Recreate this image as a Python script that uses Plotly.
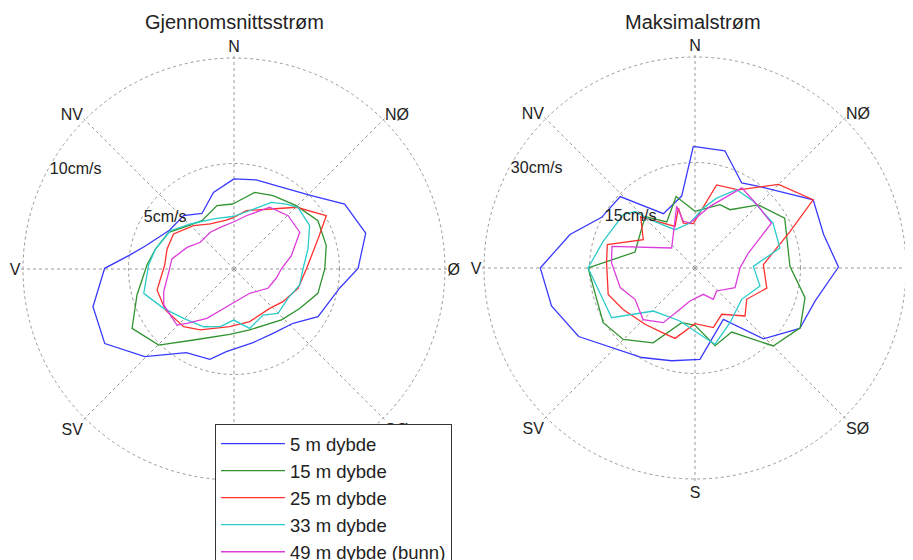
import plotly.graph_objects as go

# ---------------- data (compass degrees, cm/s) ----------------
labels = ["5 m dybde", "15 m dybde", "25 m dybde", "33 m dybde", "49 m dybde (bunn)"]
colors = ["#3a3aff", "#2f932f", "#ff3030", "#2ccccc", "#dd3cdd"]

dir_vals = [0, 45, 90, 135, 180, 225, 270, 315]
dir_text = ["N", "NØ", "Ø", "SØ", "S", "SV", "V", "NV"]

# Gjennomsnittsstrøm (mean current)
mean_5_th = [0, 14, 29, 45.6, 59.6, 74.8, 89.7, 100, 119.6, 132.6, 148.8, 165.5, 185.3, 195, 209.7, 225.5, 240, 255, 270.3, 277.6, 285, 301, 316.7, 330, 345]
mean_5_r = [4.27, 4.35, 4.46, 5.01, 6.08, 6.47, 5.88, 5.1, 4.58, 3.80, 3.57, 3.60, 3.93, 4.43, 4.56, 5.93, 7.07, 6.92, 6.13, 4.99, 4.31, 3.57, 3.48, 3.04, 3.76]

mean_15_th = [359, 15.1, 28, 44.5, 60.1, 75.8, 90, 106.2, 121, 137, 165.6, 183.8, 209.6, 224.7, 239.8, 255, 272.6, 284.3, 299.3, 309.6, 326.5, 345]
mean_15_r = [3.08, 3.76, 3.94, 4.21, 4.59, 4.51, 4.30, 4.14, 3.63, 3.30, 2.98, 3.10, 3.87, 5.07, 5.59, 4.76, 4.13, 3.84, 3.55, 3.10, 2.75, 3.11]

mean_25_th = [0, 11.9, 31.9, 45.3, 60, 70.3, 90, 106.8, 123.7, 137.8, 163.4, 184.3, 208.9, 221.1, 239.2, 254.7, 273.3, 286.6, 300.1, 317, 332.3, 351]
mean_25_r = [2.45, 2.83, 3.35, 4.16, 5.05, 4.23, 3.43, 3.17, 2.79, 2.52, 2.60, 2.74, 3.30, 3.63, 3.79, 3.78, 3.29, 3.31, 3.31, 2.81, 2.41, 2.35]

mean_33_th = [0, 15, 29.2, 38.8, 46.1, 60.2, 74.9, 90, 103.7, 118.5, 135.2, 147.8, 165.2, 180.4, 193.3, 207.7, 225.6, 240.8, 254.9, 272.7, 284.3, 301, 315.9, 337.9]
mean_33_r = [2.50, 2.86, 3.62, 3.95, 4.21, 4.13, 3.63, 3.27, 3.20, 2.91, 2.96, 2.58, 2.91, 2.42, 2.81, 3.09, 3.34, 3.82, 4.43, 4.05, 3.84, 3.52, 2.97, 2.56]

mean_49_th = [0, 13, 30, 45.4, 60.8, 76.9, 90, 102.4, 119.6, 147.2, 186.9, 208.7, 220.9, 225.5, 242.9, 252.1, 267.1, 279.2, 294.7, 308.4, 327.2, 341.8]
mean_49_r = [2.24, 2.59, 3.38, 3.60, 3.57, 2.79, 2.24, 2.05, 1.85, 1.37, 1.72, 2.67, 3.41, 3.79, 3.74, 3.50, 3.10, 2.98, 2.45, 2.04, 2.07, 2.08]

# Maksimalstrøm (maximum current)
max_5_th = [359.2, 14.3, 28.8, 38.5, 60, 75.4, 89.6, 105.4, 120, 136, 151.1, 176.9, 194.1, 210.7, 239.5, 255.2, 270, 285, 298.5, 313.7, 329.8, 349.5]
max_5_r = [17.3, 17.2, 13.8, 14.8, 19.4, 18.9, 20.4, 17.7, 17.2, 14.0, 8.34, 13.0, 13.6, 14.8, 19.2, 21.1, 22.0, 18.4, 15.1, 14.7, 8.94, 10.4]

max_15_th = [0, 21.5, 31, 45, 60.9, 89, 105.1, 119.6, 134.9, 150.2, 165.5, 180, 193.7, 209.2, 225.1, 239.2, 270, 284.9, 315.9, 328.4, 345.2]
max_15_r = [8.06, 9.68, 9.67, 12.7, 14.6, 13.5, 16.2, 17.2, 15.7, 10.5, 11.4, 8.15, 8.0, 12.2, 14.4, 15.2, 15.2, 8.83, 10.2, 7.68, 10.5]

max_25_th = [357.8, 14.6, 29, 45, 60, 68.9, 87.2, 105.6, 121.2, 133.8, 150, 162.9, 180, 195.8, 207.3, 221.6, 240, 253.1, 273.5, 284.9, 298.7, 313.2, 334.4, 344.5, 345.5]
max_25_r = [6.31, 12.2, 12.7, 16.8, 19.4, 14.5, 9.73, 10.6, 8.59, 9.86, 7.6, 8.87, 7.91, 10.4, 10.3, 10.7, 11.8, 12.9, 12.6, 12.9, 8.38, 10.6, 6.57, 8.85, 6.6]

max_33_th = [353.7, 7.9, 17.2, 28, 41.2, 60.1, 76.8, 88.4, 105.5, 123.9, 147.4, 165.3, 180, 195.8, 224.1, 239.2, 270, 286.2, 306.7, 313.4, 317, 332.4]
max_33_r = [6.44, 8.61, 10.4, 12.6, 12.6, 12.8, 12.4, 8.3, 9.59, 7.99, 9.23, 11.2, 9.0, 7.83, 8.52, 13.8, 15.2, 13.6, 12.7, 11.7, 9.39, 6.15]

max_49_th = [353.7, 13.7, 30.3, 44.2, 59.6, 74.3, 90, 116.2, 136.7, 149.7, 162.4, 188.6, 200, 210.1, 225.2, 242.4, 255.3, 273.7, 284.6, 310.6, 343.4, 346]
max_49_r = [6.44, 9.02, 13.2, 12.6, 12.6, 7.88, 6.4, 6.34, 4.49, 5.16, 3.93, 4.75, 6.25, 8.98, 10.4, 9.62, 11.0, 11.9, 12.2, 4.37, 9.15, 6.84]

mean_series = [(mean_5_th, mean_5_r), (mean_15_th, mean_15_r), (mean_25_th, mean_25_r),
               (mean_33_th, mean_33_r), (mean_49_th, mean_49_r)]
max_series = [(max_5_th, max_5_r), (max_15_th, max_15_r), (max_25_th, max_25_r),
              (max_33_th, max_33_r), (max_49_th, max_49_r)]

mean_ticks = [5, 10]
mean_ticktext = ["5cm/s", "10cm/s"]
max_ticks = [15, 30]
max_ticktext = ["15cm/s", "30cm/s"]

FONT = "Liberation Sans, Arial, sans-serif"

fig = go.Figure()


def closed(a):
    return list(a) + [a[0]]


for i, (th, r) in enumerate(mean_series):
    fig.add_trace(go.Scatterpolar(theta=closed(th), r=closed(r), mode="lines",
                                  line=dict(color=colors[i], width=1.3),
                                  name=labels[i], subplot="polar", showlegend=True))
for i, (th, r) in enumerate(max_series):
    fig.add_trace(go.Scatterpolar(theta=closed(th), r=closed(r), mode="lines",
                                  line=dict(color=colors[i], width=1.3),
                                  name=labels[i], subplot="polar2", showlegend=False))

# page body has an 8px margin, so layout coords = screen coords - 8
W, H = 905, 552
PAD = 1.01  # small headroom so the outer dotted ring is drawn


def polar_cfg(cx, cy, rad, rmax, tv, tt):
    rd = rad * PAD
    return dict(
        domain=dict(x=[(cx - rd) / W, (cx + rd) / W],
                    y=[(H - cy - rd) / H, (H - cy + rd) / H]),
        bgcolor="white",
        angularaxis=dict(direction="clockwise", rotation=90,
                         tickmode="array", tickvals=dir_vals, ticktext=dir_text,
                         showline=False, ticks="", showgrid=True,
                         gridcolor="#9a9a9a", griddash="dot", gridwidth=1,
                         tickfont=dict(family=FONT, size=16, color="#222")),
        radialaxis=dict(range=[0, rmax * PAD], tickmode="array", tickvals=tv, ticktext=tt,
                        showline=False, ticks="", angle=153, tickangle=153, showgrid=True,
                        gridcolor="#9a9a9a", griddash="dot", gridwidth=1,
                        tickfont=dict(family=FONT, size=16, color="#222")),
    )


fig.update_layout(
    width=W, height=H,
    margin=dict(l=0, r=0, t=0, b=0, autoexpand=False),
    paper_bgcolor="white",
    polar=polar_cfg(226, 261, 211, 10, mean_ticks, mean_ticktext),
    polar2=polar_cfg(687, 260, 211, 30, max_ticks, max_ticktext),
    legend=dict(x=207 / W, y=(H - 416) / H, xanchor="left", yanchor="top",
                bgcolor="white", bordercolor="#333", borderwidth=1, itemwidth=64,
                font=dict(family=FONT, size=18.5, color="#222")),
    annotations=[
        dict(text="Gjennomsnittsstrøm", x=226 / W, y=(H - 14) / H, xref="paper", yref="paper",
             xanchor="center", yanchor="middle",
             showarrow=False, font=dict(family=FONT, size=20, color="#222")),
        dict(text="Maksimalstrøm", x=685 / W, y=(H - 14) / H, xref="paper", yref="paper",
             xanchor="center", yanchor="middle",
             showarrow=False, font=dict(family=FONT, size=20, color="#222")),
    ],
)

fig.write_html("out.html")
